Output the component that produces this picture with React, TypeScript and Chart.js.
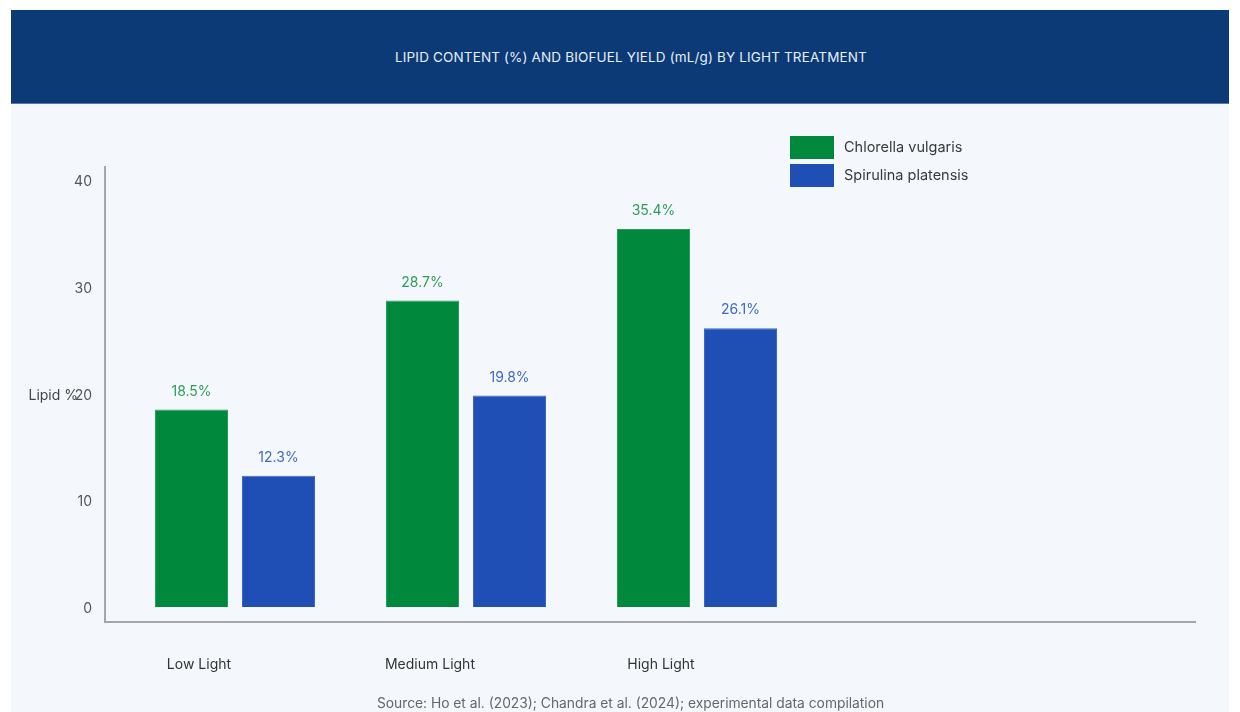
import React, { useEffect, useRef } from "react";
import { Chart, registerables } from "chart.js";

Chart.register(...registerables);

const TITLE = "LIPID CONTENT (%) AND BIOFUEL YIELD (mL/g) BY LIGHT TREATMENT";
const CATEGORIES = ["Low Light", "Medium Light", "High Light"];
const SERIES_NAMES = ["Chlorella vulgaris", "Spirulina platensis"];
const CHLORELLA = [18.5, 28.7, 35.4];
const SPIRULINA = [12.3, 19.8, 26.1];
const Y_TICKS = [0, 10, 20, 30, 40];
const Y_TITLE = "Lipid %";
const SOURCE = "Source: Ho et al. (2023); Chandra et al. (2024); experimental data compilation";

const BAR_COLORS = ["#00893c", "#1f4fb4"];
const LABEL_COLORS = ["#2e9d57", "#4169c3"];
const FONT = "Inter, Roboto, 'Noto Sans', sans-serif";
const LABEL_SHIFT = -0.156;

const extrasPlugin = {
  id: "extras",
  afterDatasetsDraw(chart: any) {
    const { ctx, chartArea } = chart;
    ctx.save();
    ctx.font = `14px ${FONT}`;
    ctx.textAlign = "center";
    ctx.textBaseline = "middle";
    chart.data.datasets.forEach((ds: any, di: number) => {
      const meta = chart.getDatasetMeta(di);
      meta.data.forEach((el: any, i: number) => {
        ctx.fillStyle = LABEL_COLORS[di];
        ctx.fillText(`${ds.data[i].y.toFixed(1)}%`, el.x, el.y - 18);
      });
    });
    ctx.textAlign = "left";
    ctx.font = `14.5px ${FONT}`;
    SERIES_NAMES.forEach((name, i) => {
      const y = 32 + i * 28;
      ctx.fillStyle = BAR_COLORS[i];
      ctx.fillRect(779, y, 44, 23);
      ctx.fillStyle = "#3a3a3a";
      ctx.fillText(name, 833, y + 11.5);
    });
    ctx.font = `14px ${FONT}`;
    ctx.fillStyle = "#444";
    ctx.textAlign = "right";
    ctx.fillText(Y_TITLE, 67, (chartArea.top + chartArea.bottom) / 2 + 1);
    ctx.font = `13.8px ${FONT}`;
    ctx.fillStyle = "#666";
    ctx.textAlign = "center";
    ctx.fillText(SOURCE, 619.5, 600);
    ctx.restore();
  },
};

export default function App() {
  const ref = useRef<HTMLCanvasElement | null>(null);
  useEffect(() => {
    if (!ref.current) return;
    const chart = new Chart(ref.current, {
      type: "bar",
      data: {
        datasets: [
          {
            label: SERIES_NAMES[0],
            data: CATEGORIES.map((_, i) => ({ x: i, y: CHLORELLA[i] })),
            backgroundColor: BAR_COLORS[0],
            borderColor: "#22a055",
            borderWidth: 1,
          },
          {
            label: SERIES_NAMES[1],
            data: CATEGORIES.map((_, i) => ({ x: i, y: SPIRULINA[i] })),
            backgroundColor: BAR_COLORS[1],
            borderColor: "#3a66c8",
            borderWidth: 1,
          },
        ] as any,
      },
      options: {
        animation: false,
        responsive: false,
        maintainAspectRatio: false,
        categoryPercentage: 0.7532,
        barPercentage: 0.839,
        layout: { padding: { top: 63, left: 0, right: 34, bottom: 0 } },
        plugins: { legend: { display: false }, tooltip: { enabled: false }, title: { display: false } },
        scales: {
          x: {
            type: "linear",
            offset: false,
            min: -0.5628,
            max: 4.1558,
            grid: { display: false, drawTicks: false, offset: false },
            border: { display: true, color: "#a6a6a6", width: 2 },
            afterBuildTicks: (scale: any) => {
              scale.ticks = CATEGORIES.map((_, i) => ({ value: i + LABEL_SHIFT }));
            },
            afterFit: (scale: any) => {
              scale.height = 90;
            },
            ticks: {
              autoSkip: false,
              maxRotation: 0,
              padding: 34,
              color: "#333",
              font: { family: FONT, size: 14 },
              callback: (_v: any, i: number) => CATEGORIES[i],
            },
          },
          y: {
            min: -1.4,
            max: 41.2,
            grid: { display: false, drawTicks: false },
            border: { display: true, color: "#a6a6a6", width: 2 },
            afterBuildTicks: (scale: any) => {
              scale.ticks = Y_TICKS.map((v) => ({ value: v }));
            },
            afterFit: (scale: any) => {
              scale.width = 94;
            },
            ticks: {
              padding: 13,
              labelOffset: 2,
              color: "#555",
              font: { family: FONT, size: 14 },
              callback: (v: any) => String(v),
            },
          },
        },
      } as any,
      plugins: [extrasPlugin],
    });
    return () => chart.destroy();
  }, []);

  return (
    <div style={{ position: "absolute", left: 11, top: 10, width: 1218, height: 702, background: "#f4f8fd", overflow: "hidden" }}>
      <div
        style={{
          height: 93,
          boxSizing: "content-box",
          paddingLeft: 22,
          background: "#0b3a76",
          borderBottom: "1px solid #5a78a6",
          color: "#e8eef8",
          fontFamily: FONT,
          fontSize: 13.5,
          display: "flex",
          alignItems: "center",
          justifyContent: "center",
          letterSpacing: 0.15,
        }}
      >
        {TITLE}
      </div>
      <canvas ref={ref} width={1218} height={608} style={{ display: "block" }} />
    </div>
  );
}
